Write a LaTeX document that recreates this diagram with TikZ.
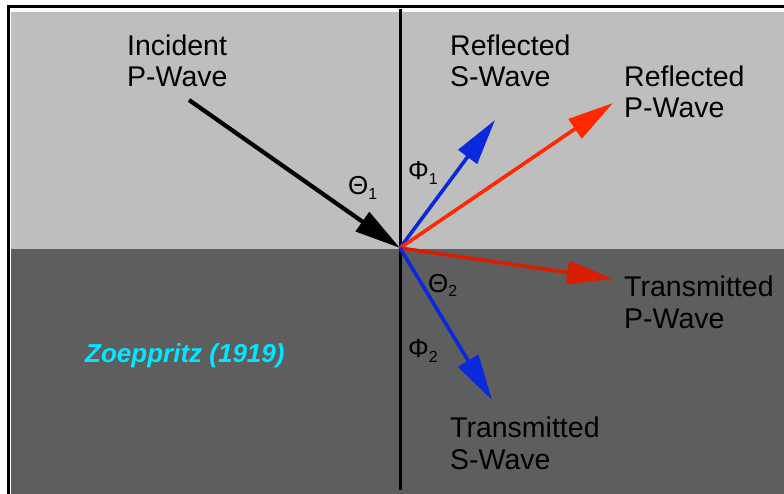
\documentclass[tikz,border=0pt]{standalone}
\usepackage{fontspec}
\setmainfont{Liberation Sans}
\usetikzlibrary{arrows.meta}
\definecolor{lightlayer}{RGB}{190,190,190}
\definecolor{darklayer}{RGB}{94,94,94}
\definecolor{wblue}{RGB}{10,40,220}
\definecolor{wred}{RGB}{255,40,0}
\definecolor{wdred}{RGB}{215,30,0}
\definecolor{zcyan}{RGB}{0,232,255}
\tikzset{
  wave/.style={line width=3.6pt, -{Triangle[length=46pt,width=23pt]}},
  lbl/.style={anchor=base west, inner sep=0pt, font=\fontsize{28.5}{31.5}\selectfont, align=left},
  greek/.style={anchor=base west, inner sep=0pt, font=\fontsize{26}{26}\selectfont},
}
\newcommand{\gsub}[1]{\raisebox{-5pt}{\fontsize{16}{16}\selectfont #1}}
\begin{document}
\begin{tikzpicture}[x=1pt,y=-1pt]
\useasboundingbox (0,0) rectangle (784,494);
\fill[white] (0,0) rectangle (784,494);
\fill[black] (7,5) rectangle (784,494);
\fill[white] (10,8.5) rectangle (784,494);
\fill[lightlayer] (11,12) rectangle (784,249);
\fill[darklayer] (11,249) rectangle (784,494);
% normal line
\coordinate (ntop) at (400,9);
\coordinate (nbot) at (400,490);
\draw[line width=3pt] (ntop) -- (nbot);
% interface point
\coordinate (O) at (400,248);
\coordinate (inc) at (189,100);
\coordinate (rs) at (495,120);
\coordinate (rp) at (613,103);
\coordinate (tp) at (613,279);
\coordinate (ts) at (492,400);
\draw[wave, black, line width=4.2pt] (inc) -- (O);
\draw[wave, wblue] (O) -- (rs);
\draw[wave, wred] (O) -- (rp);
\draw[wave, wdred] (O) -- (tp);
\draw[wave, wblue] (O) -- (ts);
% labels (base anchor = baseline of last line)
\node[lbl] (incl) at (127,87) {Incident\\P-Wave};
\node[lbl] (rsl) at (450,87) {Reflected\\S-Wave};
\node[lbl] (rpl) at (624,118) {Reflected\\P-Wave};
\node[lbl] (tpl) at (624,328) {Transmitted\\P-Wave};
\node[lbl] (tsl) at (450,469) {Transmitted\\S-Wave};
\node[greek] (th1) at (348,195) {Θ\gsub{1}};
\node[greek] (ph1) at (408,180) {Φ\gsub{1}};
\node[greek] (th2) at (428,292) {Θ\gsub{2}};
\node[greek] (ph2) at (408,357) {Φ\gsub{2}};
\node[anchor=base west, inner sep=0pt, text=zcyan, font=\fontsize{26}{26}\selectfont\bfseries\itshape] (zoe) at (85,362) {Zoeppritz (1919)};
\end{tikzpicture}
\end{document}
